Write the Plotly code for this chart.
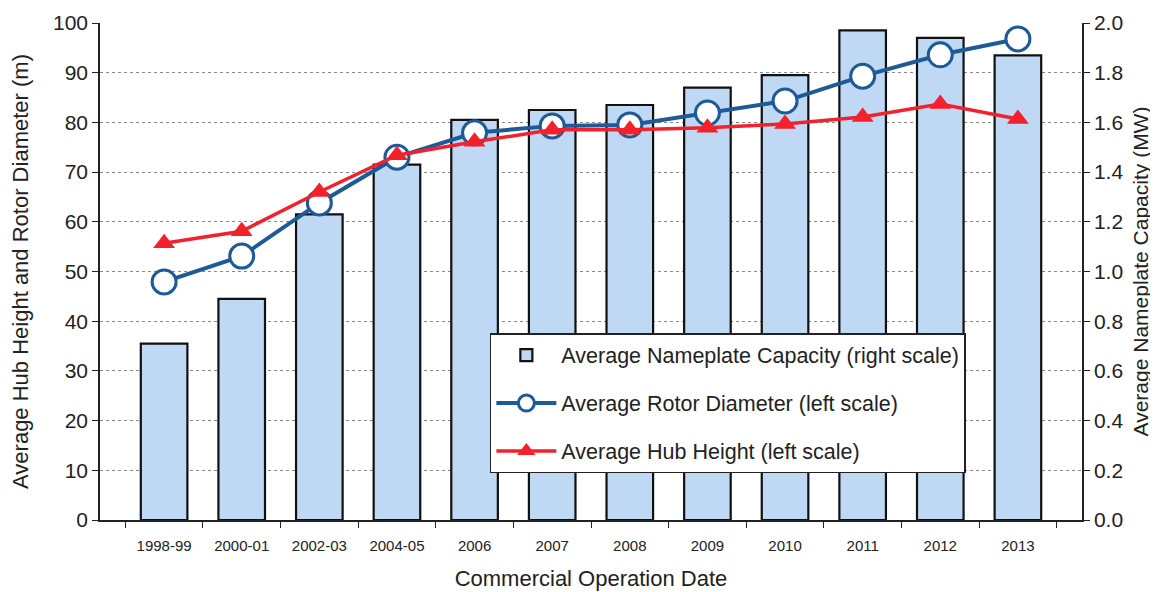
import plotly.graph_objects as go

periods = ["1998-99", "2000-01", "2002-03", "2004-05", "2006", "2007",
           "2008", "2009", "2010", "2011", "2012", "2013"]
capacity_mw = [0.71, 0.89, 1.23, 1.43, 1.61, 1.65, 1.67, 1.74, 1.79, 1.97, 1.94, 1.87]
rotor_diameter = [47.9, 53.1, 63.8, 73.0, 77.9, 79.3, 79.5, 81.9, 84.3, 89.3, 93.6, 96.8]
hub_height = [55.7, 58.1, 66.0, 73.4, 76.1, 78.5, 78.5, 78.9, 79.7, 81.1, 83.7, 80.7]

font = "Liberation Sans, Arial, sans-serif"

fig = go.Figure()

# bars sit on the primary axis (drawn on the right) so the lines overlay them
fig.add_trace(go.Bar(
    x=periods, y=capacity_mw, name="Average Nameplate Capacity (right scale)",
    marker=dict(color="#bfd9f4", line=dict(color="#111111", width=2.2)),
    width=0.6, yaxis="y", legendgroup="a"))

fig.add_trace(go.Scatter(
    x=periods, y=rotor_diameter, name="Average Rotor Diameter (left scale)",
    mode="lines+markers", yaxis="y2", legendgroup="b",
    line=dict(color="#1d5a98", width=4),
    marker=dict(symbol="circle", size=24, color="white",
                line=dict(color="#1d5a98", width=3))))

fig.add_trace(go.Scatter(
    x=periods, y=hub_height, name="Average Hub Height (left scale)",
    mode="lines+markers", yaxis="y2", legendgroup="c",
    line=dict(color="#f2212b", width=3.5),
    marker=dict(symbol="triangle-up", size=19, color="#f2212b")))

# page body adds 8px around the figure, so the figure is 8px smaller
fig.update_layout(
    width=1150, height=584,
    margin=dict(l=92, r=76, t=15, b=72),
    paper_bgcolor="white", plot_bgcolor="white",
    font=dict(family=font, size=20, color="#222222"),
    showlegend=True,
    legend=dict(x=0.397, y=0.376, xanchor="left", yanchor="top",
                bgcolor="white", bordercolor="#222222", borderwidth=1.5,
                font=dict(size=21.5), tracegroupgap=17, itemwidth=60),
    xaxis=dict(type="category", showline=True, linecolor="#222222", linewidth=1.5,
               ticks="outside", tickson="boundaries", ticklen=6,
               tickcolor="#222222", tickfont=dict(size=15), automargin=False,
               ticklabelstandoff=11,
               title=dict(text="Commercial Operation Date", font=dict(size=22),
                          standoff=18)),
    yaxis=dict(side="right", range=[0, 2.0], dtick=0.2, tickformat=".1f",
               showline=True, linecolor="#222222", linewidth=1.5,
               ticks="outside", ticklen=6, tickcolor="#222222", automargin=False,
               showgrid=False, zeroline=False, tickfont=dict(size=21),
               title=dict(text="Average Nameplate Capacity (MW)", font=dict(size=21),
                          standoff=11)),
    yaxis2=dict(overlaying="y", side="left", range=[0, 100], dtick=10,
                showline=True, linecolor="#222222", linewidth=1.5,
                ticks="outside", ticklen=6, tickcolor="#222222", automargin=False,
                showgrid=True, gridcolor="#888888", griddash="dot", gridwidth=1,
                zeroline=False, tickfont=dict(size=21),
                title=dict(text="Average Hub Height and Rotor Diameter (m)",
                           font=dict(size=22), standoff=18)),
)

fig.write_html("out.html")
